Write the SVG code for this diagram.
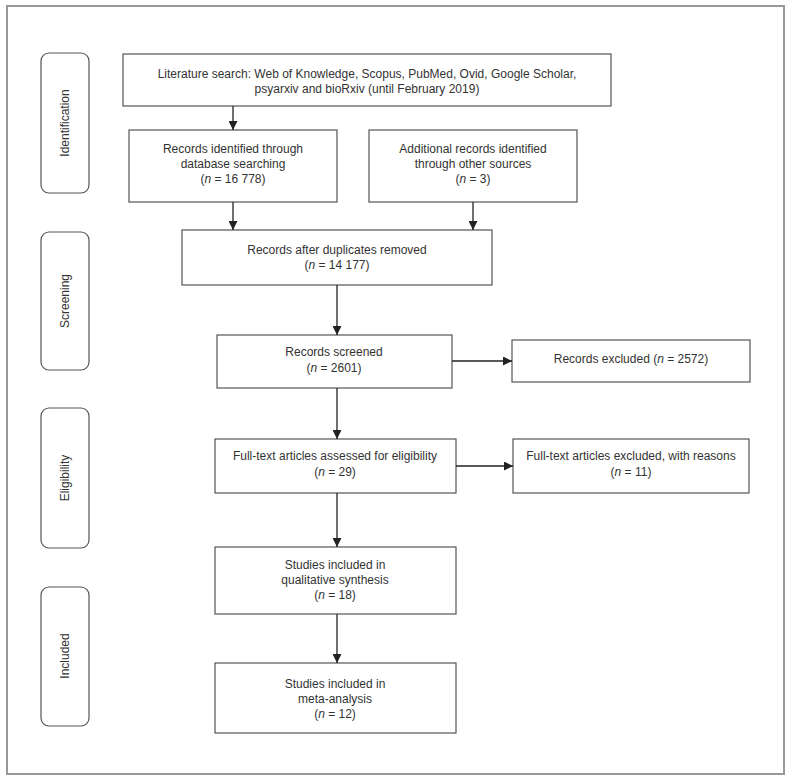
<svg xmlns="http://www.w3.org/2000/svg" width="791" height="781" viewBox="0 0 791 781">
<style>
.frame{fill:#fff;stroke:#999;stroke-width:2}
.box{fill:#fff;stroke:#555;stroke-width:1.2}
.side{fill:#fff;stroke:#555;stroke-width:1.2}
text{font-family:"Liberation Sans",Arial,sans-serif;font-size:12px;fill:#333;text-anchor:middle}
.i{font-style:italic}
.conn{stroke:#222;stroke-width:1.3;fill:none;marker-end:url(#ah)}
</style>
<defs>
<marker id="ah" markerUnits="userSpaceOnUse" markerWidth="9" markerHeight="9" refX="9" refY="4.5" orient="auto">
<path d="M0,0 L9,4.5 L0,9 z" fill="#222"/>
</marker>
</defs>
<rect x="0" y="0" width="791" height="781" fill="#fff"/>
<rect class="frame" x="7" y="6" width="777" height="768"/>

<g id="stage-identification">
<rect class="side" x="41" y="53" width="48" height="140" rx="8"/>
<text transform="translate(69,123) rotate(-90)">Identification</text>
</g>
<g id="stage-screening">
<rect class="side" x="41" y="232" width="48" height="138" rx="8"/>
<text transform="translate(69,301) rotate(-90)">Screening</text>
</g>
<g id="stage-eligibility">
<rect class="side" x="41" y="408" width="48" height="140" rx="8"/>
<text transform="translate(69,478) rotate(-90)">Eligibility</text>
</g>
<g id="stage-included">
<rect class="side" x="41" y="587" width="48" height="139" rx="8"/>
<text transform="translate(69,656) rotate(-90)">Included</text>
</g>

<g id="literature-search">
<rect class="box" x="123" y="54" width="488" height="52"/>
<text x="367" y="78">Literature search: Web of Knowledge, Scopus, PubMed, Ovid, Google Scholar,</text>
<text x="367" y="93">psyarxiv and bioRxiv (until February 2019)</text>
</g>
<g id="records-identified">
<rect class="box" x="129" y="130" width="208" height="72"/>
<text x="233" y="153">Records identified through</text>
<text x="233" y="168">database searching</text>
<text x="233" y="183">(<tspan class="i">n</tspan> = 16 778)</text>
</g>
<g id="additional-records">
<rect class="box" x="369" y="130" width="208" height="72"/>
<text x="473" y="153">Additional records identified</text>
<text x="473" y="168">through other sources</text>
<text x="473" y="183">(<tspan class="i">n</tspan> = 3)</text>
</g>
<g id="duplicates-removed">
<rect class="box" x="182" y="230" width="310" height="55"/>
<text x="337" y="254">Records after duplicates removed</text>
<text x="337" y="269">(<tspan class="i">n</tspan> = 14 177)</text>
</g>
<g id="records-screened">
<rect class="box" x="217" y="335" width="235" height="53"/>
<text x="334" y="356">Records screened</text>
<text x="334" y="372">(<tspan class="i">n</tspan> = 2601)</text>
</g>
<g id="records-excluded">
<rect class="box" x="512" y="340" width="238" height="42"/>
<text x="631" y="363">Records excluded (<tspan class="i">n</tspan> = 2572)</text>
</g>
<g id="fulltext-assessed">
<rect class="box" x="215" y="439" width="241" height="54"/>
<text x="335" y="460">Full-text articles assessed for eligibility</text>
<text x="335" y="476">(<tspan class="i">n</tspan> = 29)</text>
</g>
<g id="fulltext-excluded">
<rect class="box" x="513" y="439" width="236" height="54"/>
<text x="631" y="460">Full-text articles excluded, with reasons</text>
<text x="631" y="476">(<tspan class="i">n</tspan> = 11)</text>
</g>
<g id="qualitative-synthesis">
<rect class="box" x="215" y="547" width="241" height="67"/>
<text x="335" y="569">Studies included in</text>
<text x="335" y="584">qualitative synthesis</text>
<text x="335" y="599">(<tspan class="i">n</tspan> = 18)</text>
</g>
<g id="meta-analysis">
<rect class="box" x="215" y="663" width="241" height="70"/>
<text x="335" y="688">Studies included in</text>
<text x="335" y="703">meta-analysis</text>
<text x="335" y="718">(<tspan class="i">n</tspan> = 12)</text>
</g>

<g id="connectors">
<line class="conn" x1="233" y1="106" x2="233" y2="130"/>
<line class="conn" x1="233" y1="202" x2="233" y2="230"/>
<line class="conn" x1="473" y1="202" x2="473" y2="230"/>
<line class="conn" x1="337" y1="285" x2="337" y2="335"/>
<line class="conn" x1="452" y1="361" x2="512" y2="361"/>
<line class="conn" x1="337" y1="388" x2="337" y2="439"/>
<line class="conn" x1="456" y1="466" x2="513" y2="466"/>
<line class="conn" x1="337" y1="493" x2="337" y2="547"/>
<line class="conn" x1="337" y1="614" x2="337" y2="663"/>
</g>
</svg>
